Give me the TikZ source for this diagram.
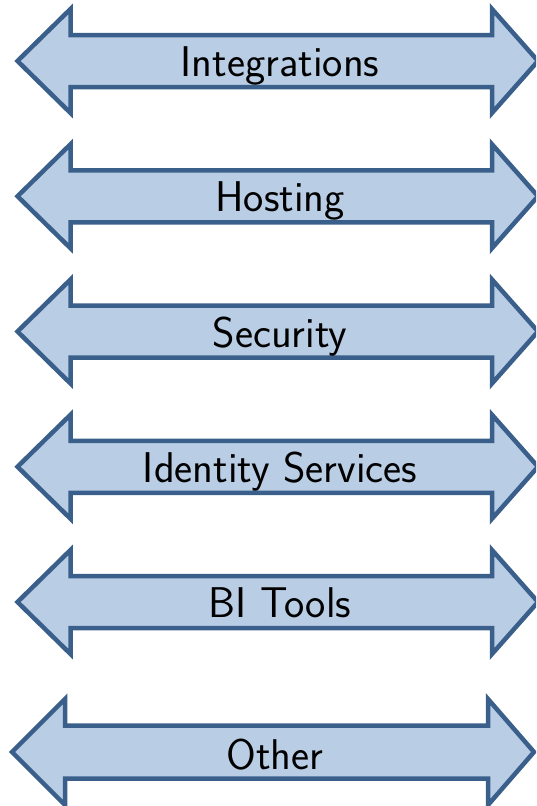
\documentclass[tikz,border=0pt]{standalone}
\usepackage{fontspec}
\definecolor{arrline}{HTML}{3A5F8B}
\definecolor{arrfill}{HTML}{B9CDE5}
\newcommand{\dblarr}[7]{% #1 cy, #2 left tip, #3 left back, #4 right back, #5 right tip, #6 head half, #7 shaft half
  \draw[arrshape] (#2,#1) -- (#3,#1-#6) -- (#3,#1-#7) -- (#4,#1-#7) -- (#4,#1-#6) -- (#5,#1)
    -- (#4,#1+#6) -- (#4,#1+#7) -- (#3,#1+#7) -- (#3,#1+#6) -- cycle;}
\begin{document}
\begin{tikzpicture}[x=1pt,y=-1pt,
  arrshape/.style={draw=arrline,fill=arrfill,line width=4.5pt,line join=miter},
  lbl/.style={anchor=base,inner sep=0pt,font=\sffamily\fontsize{43}{50}\selectfont,text=black}]
\useasboundingbox (0,0) rectangle (536,806);
\begin{scope}
\clip (0,0) rectangle (536,806);
\dblarr{61}{17.5}{70.5}{492}{538}{52}{26}
\dblarr{196.25}{17.5}{70.5}{492}{538}{52}{26}
\dblarr{331.5}{17.5}{70.5}{492}{538}{52}{26}
\dblarr{466.75}{17.5}{70.5}{492}{538}{52}{26}
\dblarr{602}{17.5}{70.5}{492}{538}{52}{26}
\dblarr{752}{12}{65}{488}{534}{53}{26.5}
\end{scope}
\node[lbl] (t1) at (280,76.5) {Integrations};
\node[lbl] (t2) at (280,211.5) {Hosting};
\node[lbl] (t3) at (280,347) {Security};
\node[lbl] (t4) at (280,482) {Identity Services};
\node[lbl] (t5) at (280,617.5) {BI Tools};
\node[lbl] (t6) at (275,769.5) {Other};
\end{tikzpicture}
\end{document}
